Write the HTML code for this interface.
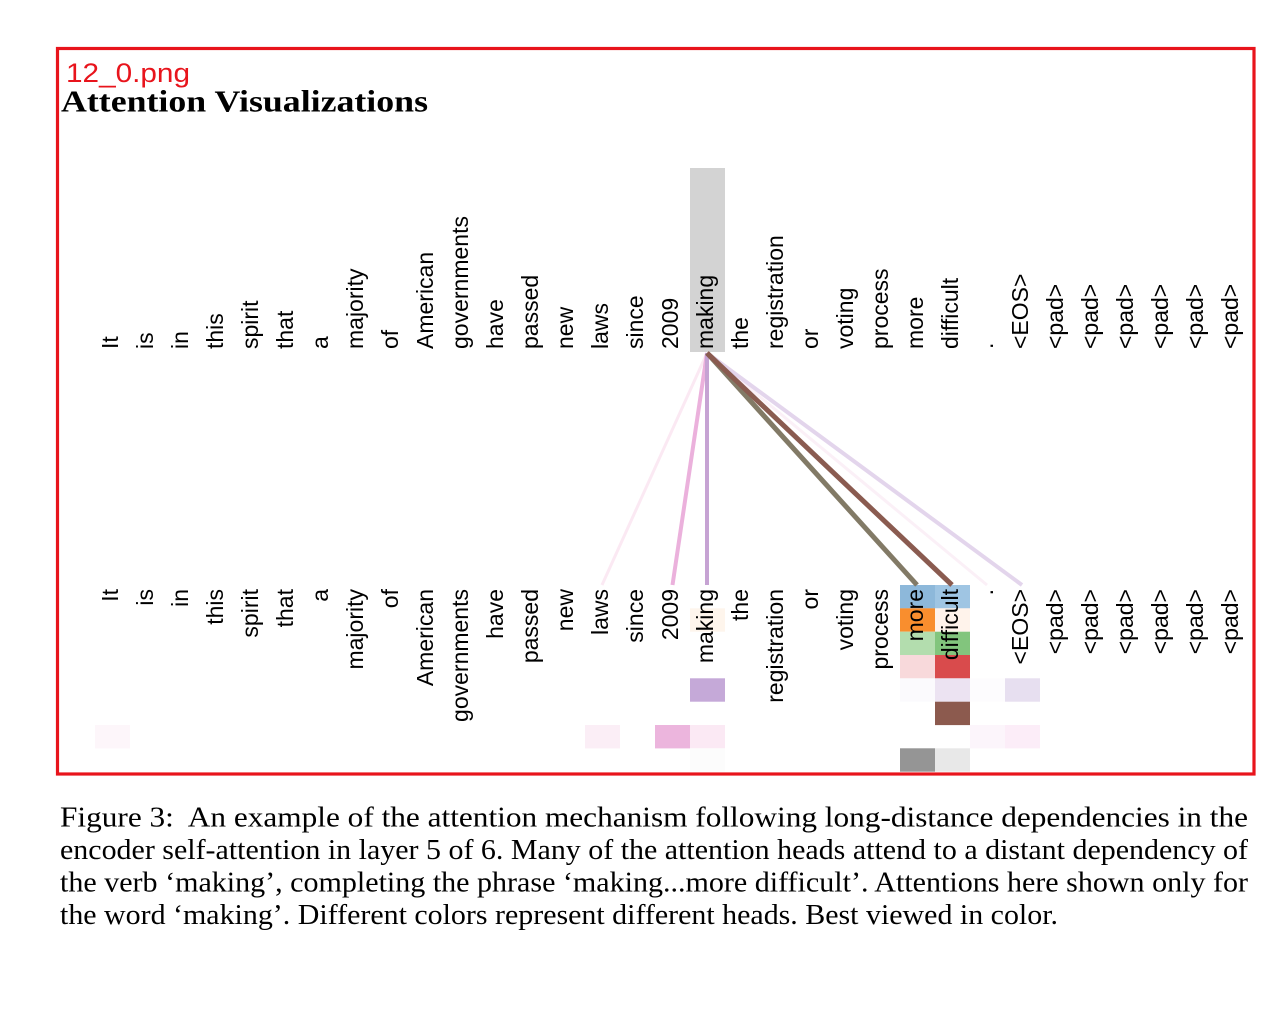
<!DOCTYPE html>
<html>
<head>
<meta charset="utf-8">
<style>
  html, body { margin:0; padding:0; background:#ffffff; }
  svg { display:block; }
</style>
</head>
<body>
<svg width="1286" height="1010" viewBox="0 0 1286 1010" xmlns="http://www.w3.org/2000/svg">
  <rect x="0" y="0" width="1286" height="1010" fill="#ffffff"/>

  <!-- Red frame -->
  <rect x="57.5" y="48.5" width="1196.5" height="725.5" fill="none" stroke="#e8141c" stroke-width="3.2"/>

  <!-- Labels -->
  <text x="66" y="82" font-family="'Liberation Sans', sans-serif" font-size="27" fill="#e8141c" textLength="124" lengthAdjust="spacingAndGlyphs">12_0.png</text>
  <text x="61" y="111.5" font-family="'Liberation Serif', serif" font-size="31" font-weight="bold" fill="#000" textLength="367" lengthAdjust="spacingAndGlyphs">Attention Visualizations</text>

  <!-- Highlight behind top 'making' -->
  <rect x="690" y="168" width="35" height="184" fill="#d3d3d3"/>

  <!-- Attention cells (bottom) -->
  <g>
    <rect x="900" y="585" width="35" height="23.4" fill="#8db8da"/>
    <rect x="935" y="585" width="35" height="23.4" fill="#9fc5e3"/>
    <rect x="690" y="608.3" width="35" height="23.4" fill="#fef5ec"/>
    <rect x="900" y="608.3" width="35" height="23.4" fill="#f98e2e"/>
    <rect x="935" y="608.3" width="35" height="23.4" fill="#fff3eb"/>
    <rect x="900" y="631.7" width="35" height="23.4" fill="#b3ddae"/>
    <rect x="935" y="631.7" width="35" height="23.4" fill="#82c57d"/>
    <rect x="900" y="655" width="35" height="23.4" fill="#f8d9db"/>
    <rect x="935" y="655" width="35" height="23.4" fill="#d94b4c"/>
    <rect x="690" y="678.3" width="35" height="23.4" fill="#c5a9d8"/>
    <rect x="900" y="678.3" width="35" height="23.4" fill="#fbfafd"/>
    <rect x="935" y="678.3" width="35" height="23.4" fill="#ece3f2"/>
    <rect x="970" y="678.3" width="35" height="23.4" fill="#fdfcfe"/>
    <rect x="1005" y="678.3" width="35" height="23.4" fill="#e7dff0"/>
    <rect x="935" y="701.7" width="35" height="23.4" fill="#8c5a4e"/>
    <rect x="95" y="725" width="35" height="23.4" fill="#fdf6fa"/>
    <rect x="585" y="725" width="35" height="23.4" fill="#fbeef6"/>
    <rect x="655" y="725" width="35" height="23.4" fill="#ecb5dd"/>
    <rect x="690" y="725" width="35" height="23.4" fill="#fbe9f4"/>
    <rect x="970" y="725" width="35" height="23.4" fill="#fcf5fb"/>
    <rect x="1005" y="725" width="35" height="23.4" fill="#fcedf8"/>
    <rect x="690" y="748.3" width="35" height="23.4" fill="#fcfcfc"/>
    <rect x="900" y="748.3" width="35" height="23.4" fill="#959595"/>
    <rect x="935" y="748.3" width="35" height="23.4" fill="#e8e8e8"/>
  </g>

  <!-- Attention lines -->
  <g stroke-linecap="butt" fill="none">
    <line x1="707" y1="353" x2="602" y2="585" stroke="#fbe9f3" stroke-width="3"/>
    <line x1="707" y1="353" x2="987" y2="585" stroke="#fbf0f7" stroke-width="3"/>
    <line x1="707" y1="353" x2="1022" y2="585" stroke="#e3d5ec" stroke-width="4"/>
    <line x1="707" y1="353" x2="672.5" y2="585" stroke="#ebb1dc" stroke-width="4"/>
    <line x1="707" y1="353" x2="707" y2="585" stroke="#c6a3d3" stroke-width="4"/>
    <line x1="707" y1="353" x2="917" y2="585" stroke="#827a66" stroke-width="5"/>
    <line x1="707" y1="353" x2="952" y2="585" stroke="#8a5b50" stroke-width="5"/>
  </g>

  <!-- Top words -->
  <g font-family="'Liberation Sans', sans-serif" font-size="23" fill="#000">
    <text transform="translate(118,349) rotate(-90)">It</text>
    <text transform="translate(153,349) rotate(-90)">is</text>
    <text transform="translate(188,349) rotate(-90)">in</text>
    <text transform="translate(223,349) rotate(-90)">this</text>
    <text transform="translate(258,349) rotate(-90)">spirit</text>
    <text transform="translate(293,349) rotate(-90)">that</text>
    <text transform="translate(328,349) rotate(-90)">a</text>
    <text transform="translate(363,349) rotate(-90)">majority</text>
    <text transform="translate(398,349) rotate(-90)">of</text>
    <text transform="translate(433,349) rotate(-90)">American</text>
    <text transform="translate(468,349) rotate(-90)">governments</text>
    <text transform="translate(503,349) rotate(-90)">have</text>
    <text transform="translate(538,349) rotate(-90)">passed</text>
    <text transform="translate(573,349) rotate(-90)">new</text>
    <text transform="translate(608,349) rotate(-90)">laws</text>
    <text transform="translate(643,349) rotate(-90)">since</text>
    <text transform="translate(678,349) rotate(-90)">2009</text>
    <text transform="translate(713,349) rotate(-90)">making</text>
    <text transform="translate(748,349) rotate(-90)">the</text>
    <text transform="translate(783,349) rotate(-90)">registration</text>
    <text transform="translate(818,349) rotate(-90)">or</text>
    <text transform="translate(853,349) rotate(-90)">voting</text>
    <text transform="translate(888,349) rotate(-90)">process</text>
    <text transform="translate(923,349) rotate(-90)">more</text>
    <text transform="translate(958,349) rotate(-90)">difficult</text>
    <text transform="translate(993,349) rotate(-90)">.</text>
    <text transform="translate(1028,349) rotate(-90)">&lt;EOS&gt;</text>
    <text transform="translate(1063,349) rotate(-90)">&lt;pad&gt;</text>
    <text transform="translate(1098,349) rotate(-90)">&lt;pad&gt;</text>
    <text transform="translate(1133,349) rotate(-90)">&lt;pad&gt;</text>
    <text transform="translate(1168,349) rotate(-90)">&lt;pad&gt;</text>
    <text transform="translate(1203,349) rotate(-90)">&lt;pad&gt;</text>
    <text transform="translate(1238,349) rotate(-90)">&lt;pad&gt;</text>
  </g>

  <!-- Bottom words -->
  <g font-family="'Liberation Sans', sans-serif" font-size="23" fill="#000" text-anchor="end">
    <text transform="translate(118,589) rotate(-90)">It</text>
    <text transform="translate(153,589) rotate(-90)">is</text>
    <text transform="translate(188,589) rotate(-90)">in</text>
    <text transform="translate(223,589) rotate(-90)">this</text>
    <text transform="translate(258,589) rotate(-90)">spirit</text>
    <text transform="translate(293,589) rotate(-90)">that</text>
    <text transform="translate(328,589) rotate(-90)">a</text>
    <text transform="translate(363,589) rotate(-90)">majority</text>
    <text transform="translate(398,589) rotate(-90)">of</text>
    <text transform="translate(433,589) rotate(-90)">American</text>
    <text transform="translate(468,589) rotate(-90)">governments</text>
    <text transform="translate(503,589) rotate(-90)">have</text>
    <text transform="translate(538,589) rotate(-90)">passed</text>
    <text transform="translate(573,589) rotate(-90)">new</text>
    <text transform="translate(608,589) rotate(-90)">laws</text>
    <text transform="translate(643,589) rotate(-90)">since</text>
    <text transform="translate(678,589) rotate(-90)">2009</text>
    <text transform="translate(713,589) rotate(-90)">making</text>
    <text transform="translate(748,589) rotate(-90)">the</text>
    <text transform="translate(783,589) rotate(-90)">registration</text>
    <text transform="translate(818,589) rotate(-90)">or</text>
    <text transform="translate(853,589) rotate(-90)">voting</text>
    <text transform="translate(888,589) rotate(-90)">process</text>
    <text transform="translate(923,589) rotate(-90)">more</text>
    <text transform="translate(958,589) rotate(-90)">difficult</text>
    <text transform="translate(993,589) rotate(-90)">.</text>
    <text transform="translate(1028,589) rotate(-90)">&lt;EOS&gt;</text>
    <text transform="translate(1063,589) rotate(-90)">&lt;pad&gt;</text>
    <text transform="translate(1098,589) rotate(-90)">&lt;pad&gt;</text>
    <text transform="translate(1133,589) rotate(-90)">&lt;pad&gt;</text>
    <text transform="translate(1168,589) rotate(-90)">&lt;pad&gt;</text>
    <text transform="translate(1203,589) rotate(-90)">&lt;pad&gt;</text>
    <text transform="translate(1238,589) rotate(-90)">&lt;pad&gt;</text>
  </g>

  <!-- Caption -->
  <g font-family="'Liberation Serif', serif" font-size="28" fill="#000">
    <text x="60" y="826.5" textLength="1188" lengthAdjust="spacingAndGlyphs" xml:space="preserve">Figure 3:  An example of the attention mechanism following long-distance dependencies in the</text>
    <text x="60" y="859" textLength="1188" lengthAdjust="spacingAndGlyphs">encoder self-attention in layer 5 of 6. Many of the attention heads attend to a distant dependency of</text>
    <text x="60" y="891.5" textLength="1188" lengthAdjust="spacingAndGlyphs">the verb ‘making’, completing the phrase ‘making...more difficult’. Attentions here shown only for</text>
    <text x="60" y="924" textLength="998" lengthAdjust="spacingAndGlyphs">the word ‘making’. Different colors represent different heads. Best viewed in color.</text>
  </g>
</svg>
</body>
</html>
